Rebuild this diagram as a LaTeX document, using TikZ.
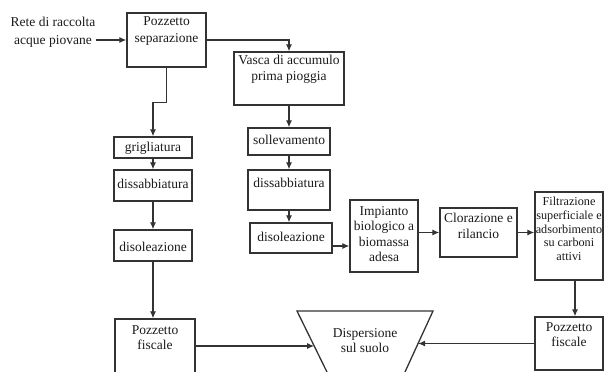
\documentclass[tikz,border=0pt]{standalone}
\usepackage{fontspec}
\setmainfont{Liberation Serif}
\usetikzlibrary{arrows.meta}
\definecolor{lc}{HTML}{333333}
\definecolor{tc}{HTML}{1A1A1A}
\begin{document}
\begin{tikzpicture}[x=1pt,y=-1pt,
  box/.style={draw=lc, line width=1.3pt, inner sep=0pt},
  txt/.style={inner sep=0pt, align=center, text=tc, font=\fontsize{13.5}{16}\selectfont},
  arr/.style={draw=lc, line width=1.2pt, -{Latex[length=7pt,width=6pt]}},
  ln/.style={draw=lc, line width=1.3pt}]
\useasboundingbox (0,0) rectangle (605,372);
\clip (0,0) rectangle (605,372);

% boxes
\node[box, minimum width=79pt, minimum height=54pt] (ps) at (166.5,40) {};
\node[box, minimum width=110pt, minimum height=53pt] (vasca) at (289,78.5) {};
\node[box, minimum width=82pt, minimum height=27pt] (soll) at (289,141.5) {};
\node[box, minimum width=82pt, minimum height=40pt] (dissR) at (289,190) {};
\node[box, minimum width=82pt, minimum height=30pt] (disolR) at (291,238) {};
\node[box, minimum width=78pt, minimum height=21pt] (grig) at (153,147.5) {};
\node[box, minimum width=78pt, minimum height=31pt] (dissL) at (153,185.5) {};
\node[box, minimum width=78pt, minimum height=31pt] (disolL) at (153,245.5) {};
\node[box, minimum width=80pt, minimum height=66pt] (pozzL) at (155,352) {};
\node[box, minimum width=68pt, minimum height=72pt] (imp) at (384,236) {};
\node[box, minimum width=77pt, minimum height=49pt] (clor) at (478.5,232.5) {};
\node[box, minimum width=68pt, minimum height=88pt] (filt) at (569,236) {};
\node[box, minimum width=68pt, minimum height=53pt] (pozzR) at (569,343.5) {};

% trapezoid
\coordinate (tl) at (297,311);
\coordinate (tr) at (433,311);
\coordinate (bl) at (330.9,380);
\coordinate (br) at (401.3,380);
\draw[ln] (bl) -- (tl) -- (tr) -- (br);
\coordinate (dl) at (314.2,346);
\coordinate (dr) at (418.1,343.5);

% texts
\node[txt, font=\fontsize{13.5}{18}\selectfont] (rete) at (53,32) {Rete di raccolta\\acque piovane};
\node[txt, font=\fontsize{13.5}{17}\selectfont] (ps-t) at (166.5,31.5) {Pozzetto\\separazione};
\node[txt] (vasca-t) at (289,69.5) {Vasca di accumulo\\prima pioggia};
\node[txt] (soll-t) at (289,139.5) {sollevamento};
\node[txt] (dissR-t) at (289,182.5) {dissabbiatura};
\node[txt] (disolR-t) at (291,236.5) {disoleazione};
\node[txt] (grig-t) at (153,148.5) {grigliatura};
\node[txt] (dissL-t) at (153,183.5) {dissabbiatura};
\node[txt] (disolL-t) at (153,247) {disoleazione};
\node[txt, font=\fontsize{13.5}{15.5}\selectfont] (imp-t) at (384,234) {Impianto\\biologico a\\biomassa\\adesa};
\node[txt, font=\fontsize{13.5}{15.5}\selectfont] (clor-t) at (478.5,226) {Clorazione e\\rilancio};
\node[txt, font=\fontsize{12.2}{13.6}\selectfont] (filt-t) at (569,229) {Filtrazione\\superficiale e\\adsorbimento\\su carboni\\attivi};
\node[txt, font=\fontsize{13.5}{15}\selectfont] (pozzL-t) at (155,338) {Pozzetto\\fiscale};
\node[txt, font=\fontsize{13.5}{15}\selectfont] (pozzR-t) at (569,335) {Pozzetto\\fiscale};
\node[txt, font=\fontsize{13.5}{15}\selectfont] (trap-t) at (365,341) {Dispersione\\sul suolo};

% connectors
\draw[arr] (rete.east |- ps.west) -- (ps.west);
\draw[arr] (ps.east) -| (vasca.north);
\draw[arr] (ps.south) -- ++(0,35) -| (grig.north);
\draw[arr] (grig.south) -- (dissL.north);
\draw[arr] (dissL.south) -- (disolL.north);
\draw[arr] (disolL.south) -- (disolL.south |- pozzL.north);
\draw[arr] (vasca.south) -- (soll.north);
\draw[arr] (soll.south) -- (dissR.north);
\draw[arr] (dissR.south) -- (dissR.south |- disolR.north);
\draw[arr] ([yshift=-8pt]disolR.east) -- ([yshift=-8pt]disolR.east -| imp.west);
\draw[arr] (clor.west -| imp.east) -- (clor.west);
\draw[arr] (clor.east) -- (clor.east -| filt.west);
\draw[arr] ([xshift=6pt]filt.south) -- ([xshift=6pt]filt.south |- pozzR.north);
\draw[arr] (pozzR.west) -- (dr);
\draw[arr] ([yshift=6pt]pozzL.east) -- (dl);
\end{tikzpicture}
\end{document}
